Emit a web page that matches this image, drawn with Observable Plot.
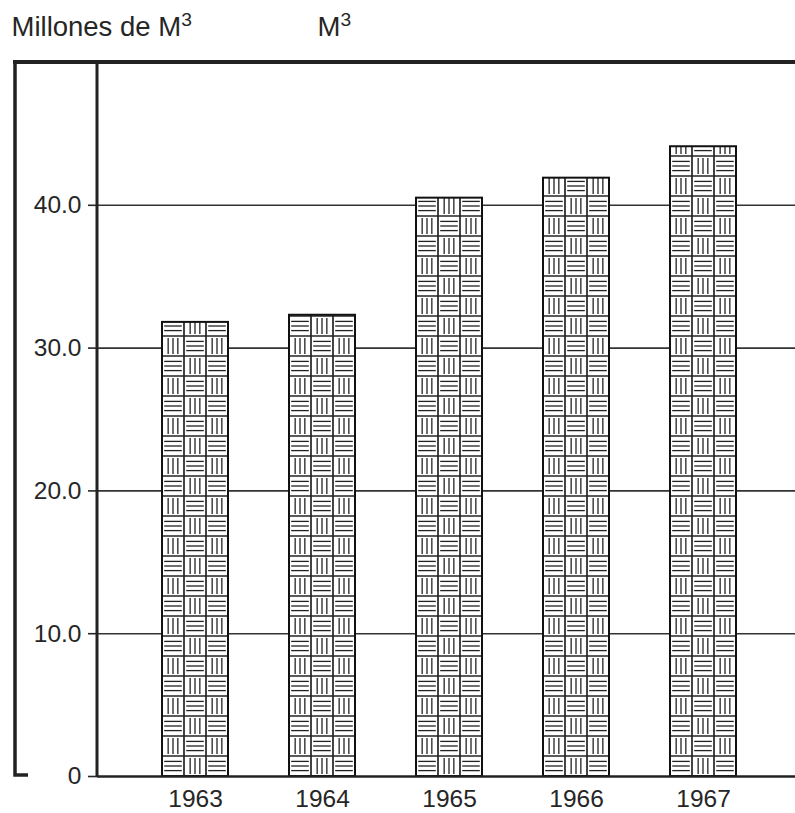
<!DOCTYPE html>
<html>
<head>
<meta charset="utf-8">
<script src="https://cdn.jsdelivr.net/npm/d3@7"></script>
<script src="https://cdn.jsdelivr.net/npm/@observablehq/plot@0.6"></script>
<style>
  html, body { margin: 0; padding: 0; background: #fff; }
  svg { display: block; }
</style>
</head>
<body>
<div id="chart"></div>
<script>
// ---- data ----
const years = ["1963", "1964", "1965", "1966", "1967"];
const volumes = [31.8, 32.3, 40.5, 41.9, 44.1];
const yTicks = [0, 10, 20, 30, 40];
const yTickLabels = ["0", "10.0", "20.0", "30.0", "40.0"];
const yMax = 50;
const titleText = "Millones de M³";
const unitText = "M³";

const data = years.map((year, i) => ({year, volume: volumes[i]}));

const ink = "#262626";
const font = "'Liberation Sans', Arial, Helvetica, sans-serif";

const plot = Plot.plot({
  width: 795,
  height: 813,
  marginLeft: 97,
  marginRight: 0,
  marginTop: 62,
  marginBottom: 37,
  style: {fontFamily: font, fontSize: "24.5px", color: ink, background: "#fff"},
  x: {domain: years, paddingInner: 0.481, paddingOuter: 0.483, align: 0.52,
      label: null, tickSize: 0, tickPadding: 13},
  y: {domain: [0, yMax], ticks: yTicks, label: null, tickSize: 9, tickPadding: 7,
      tickFormat: d => yTickLabels[yTicks.indexOf(d)]},
  marks: [
    Plot.ruleY(yTicks.slice(1), {stroke: "#333", strokeWidth: 1.6}),
    Plot.barY(data, {x: "year", y: "volume", fill: "white", stroke: "#111", strokeWidth: 2}),
    Plot.ruleY([0], {stroke: "#222", strokeWidth: 2.6}),
    Plot.text([titleText], {frameAnchor: "top-left", textAnchor: "start", lineAnchor: "bottom",
      dx: -86, dy: -27, fontSize: 27.5, fill: ink}),
    Plot.text([unitText], {frameAnchor: "top-left", textAnchor: "start", lineAnchor: "bottom",
      dx: 220, dy: -27, fontSize: 27.5, fill: ink})
  ]
});

document.getElementById("chart").appendChild(plot);

// ---- decoration: frame lines, superscripts and basket-weave fill ----
(function decorate() {
  const svgEl = plot.tagName.toLowerCase() === "svg" ? plot : plot.querySelector("svg");
  const svg = d3.select(svgEl);
  const yS = plot.scale("y");
  const yTop = yS.apply(yMax);
  const yBase = yS.apply(0);
  const xLeft = 97;
  const W = 795;

  svg.selectAll("g[aria-label='y-axis'] line, g[aria-label='y-axis tick'] path").attr("stroke-width", 1.6);

  // larger superscript "3" as a tspan (text stays real text)
  svg.selectAll("g[aria-label='text'] text").each(function() {
    const t = d3.select(this);
    const s = t.text();
    if (s.endsWith("³")) {
      t.text(s.slice(0, -1));
      t.append("tspan").attr("font-size", "0.7em").attr("dy", "-0.47em").text("3");
    }
  });

  const frame = svg.append("g").attr("stroke", "#222").attr("fill", "none");
  frame.append("line").attr("x1", xLeft).attr("x2", xLeft).attr("y1", yTop).attr("y2", yBase)
    .attr("stroke-width", 3);
  frame.append("line").attr("x1", 13).attr("x2", W).attr("y1", yTop).attr("y2", yTop)
    .attr("stroke-width", 4);
  frame.append("path").attr("d", `M15,${yTop} L15,${yBase - 1} L28,${yBase - 1}`)
    .attr("stroke-width", 3.5);

  const defs = svg.insert("defs", ":first-child");
  const bars = svg.selectAll("g[aria-label='bar'] rect");
  bars.each(function(d, i) {
    const r = d3.select(this);
    const x = +r.attr("x"), y = +r.attr("y"), w = +r.attr("width"), h = +r.attr("height");
    const cw = w / 3, ch = 20;
    const p = defs.append("pattern").attr("id", "weave" + i)
      .attr("patternUnits", "userSpaceOnUse")
      .attr("x", x).attr("y", y + h)
      .attr("width", 2 * cw).attr("height", 2 * ch);
    p.append("rect").attr("width", 2 * cw).attr("height", 2 * ch).attr("fill", "#fff");
    const g = p.append("g").attr("stroke", "#222").attr("fill", "none");
    [0, cw, 2 * cw].forEach(vx => g.append("line").attr("x1", vx).attr("x2", vx)
      .attr("y1", 0).attr("y2", 2 * ch).attr("stroke-width", 1.7));
    [0, ch, 2 * ch].forEach(hy => g.append("line").attr("x1", 0).attr("x2", 2 * cw)
      .attr("y1", hy).attr("y2", hy).attr("stroke-width", 1.7));
    const cells = [[0, 0, "v"], [1, 0, "h"], [0, 1, "h"], [1, 1, "v"]];
    cells.forEach(([c, rr, kind]) => {
      const cx = c * cw, cy = rr * ch;
      if (kind === "h") {
        [0.27, 0.5, 0.73].forEach(f => g.append("line")
          .attr("x1", cx + cw * 0.1).attr("x2", cx + cw * 0.9)
          .attr("y1", cy + ch * f).attr("y2", cy + ch * f).attr("stroke-width", 1.3));
      } else {
        [0.28, 0.5, 0.72].forEach(f => g.append("line")
          .attr("x1", cx + cw * f).attr("x2", cx + cw * f)
          .attr("y1", cy + ch * 0.1).attr("y2", cy + ch * 0.9).attr("stroke-width", 1.3));
      }
    });
    r.attr("fill", `url(#weave${i})`);
  });
})();
</script>
</body>
</html>
